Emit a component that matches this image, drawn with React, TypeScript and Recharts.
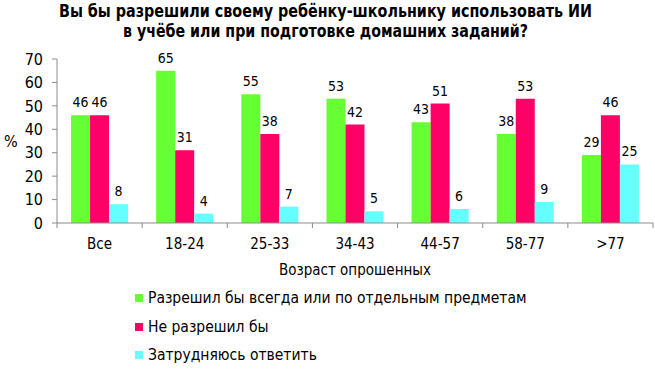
import { BarChart, Bar, XAxis, YAxis, LabelList } from 'recharts';

const titleLines = [
    'Вы бы разрешили своему ребёнку-школьнику использовать ИИ',
    'в учёбе или при подготовке домашних заданий?',
];
const ageGroups = ['Все', '18-24', '25-33', '34-43', '44-57', '58-77', '>77'];
const allowValues = [46, 65, 55, 53, 43, 38, 29];
const denyValues = [46, 31, 38, 42, 51, 53, 46];
const unsureValues = [8, 4, 7, 5, 6, 9, 25];
const seriesNames = [
    'Разрешил бы всегда или по отдельным предметам',
    'Не разрешил бы',
    'Затрудняюсь ответить',
];
const seriesColors = ['#66ff33', '#ff0066', '#66ffff'];
const yTicks = [0, 10, 20, 30, 40, 50, 60, 70];

const data = ageGroups.map((g, i) => ({
    group: g,
    allow: allowValues[i],
    deny: denyValues[i],
    unsure: unsureValues[i],
}));
const keys = ['allow', 'deny', 'unsure'];

const FONT = 'Tahoma, "DejaVu Sans Condensed", "DejaVu Sans", sans-serif';
const AXIS = '#8c8c8c';
const titleWidths = [533, 405];

// category tick: label in the middle, tick mark on the left border of each band
const GroupTick = (props: any) => {
    const { x, y, payload, index } = props;
    const half = payload.offset || 42.5;
    return (
        <g>
            <line x1={x - half} x2={x - half} y1={y} y2={y + 5} stroke={AXIS} />
            {index === ageGroups.length - 1 && (
                <line x1={x + half} x2={x + half} y1={y} y2={y + 5} stroke={AXIS} />
            )}
            <text x={x} y={y + 26} textAnchor="middle" fontSize={15} fill="#000" fontFamily={FONT}>
                {payload.value}
            </text>
        </g>
    );
};

export default function App() {
    return (
        <div style={{ position: 'absolute', left: 0, top: 0, width: 655, height: 383, background: '#fff', fontFamily: FONT }}>
            <svg width={655} height={45} style={{ position: 'absolute', left: 0, top: 0 }}>
                {titleLines.map((t, i) => (
                    <text
                        key={t}
                        x={325.5}
                        y={17 + i * 20}
                        textAnchor="middle"
                        textLength={titleWidths[i]}
                        lengthAdjust="spacingAndGlyphs"
                        fontSize={17}
                        fontWeight="bold"
                        fontFamily='"DejaVu Sans Condensed", sans-serif'
                        fill="#000"
                    >
                        {t}
                    </text>
                ))}
            </svg>
            <BarChart
                width={655}
                height={383}
                data={data}
                margin={{ top: 59, right: 2, left: 0, bottom: 108 }}
                barCategoryGap="16.5%"
                barGap={0}
            >
                <XAxis
                    dataKey="group"
                    stroke={AXIS}
                    tickLine={false}
                    tickSize={0}
                    tickMargin={0}
                    height={52}
                    tick={<GroupTick />}
                    label={{ value: 'Возраст опрошенных', position: 'insideBottom', offset: 0, fontSize: 15, fill: '#000', fontFamily: FONT }}
                />
                <YAxis
                    width={57}
                    domain={[0, 70]}
                    ticks={yTicks}
                    stroke={AXIS}
                    tickSize={5}
                    tickMargin={9}
                    tick={{ fill: '#000', fontSize: 16, fontFamily: FONT }}
                    label={{ value: '%', angle: 0, position: 'insideLeft', offset: 4, fontSize: 16, fill: '#000', fontFamily: FONT }}
                />
                {keys.map((k, i) => (
                    <Bar key={k} dataKey={k} name={seriesNames[i]} fill={seriesColors[i]} isAnimationActive={false}>
                        <LabelList dataKey={k} position="top" offset={8} fontSize={14} fill="#000" fontFamily={FONT} />
                    </Bar>
                ))}
            </BarChart>
            <div style={{ position: 'absolute', left: 135, top: 284 }}>
                {seriesNames.map((n, i) => (
                    <div key={n} style={{ display: 'flex', alignItems: 'center', height: 28.5, fontSize: 15.5, color: '#000' }}>
                        <span style={{ width: 8, height: 8, background: seriesColors[i], marginRight: 5 }} />
                        {n}
                    </div>
                ))}
            </div>
        </div>
    );
}
